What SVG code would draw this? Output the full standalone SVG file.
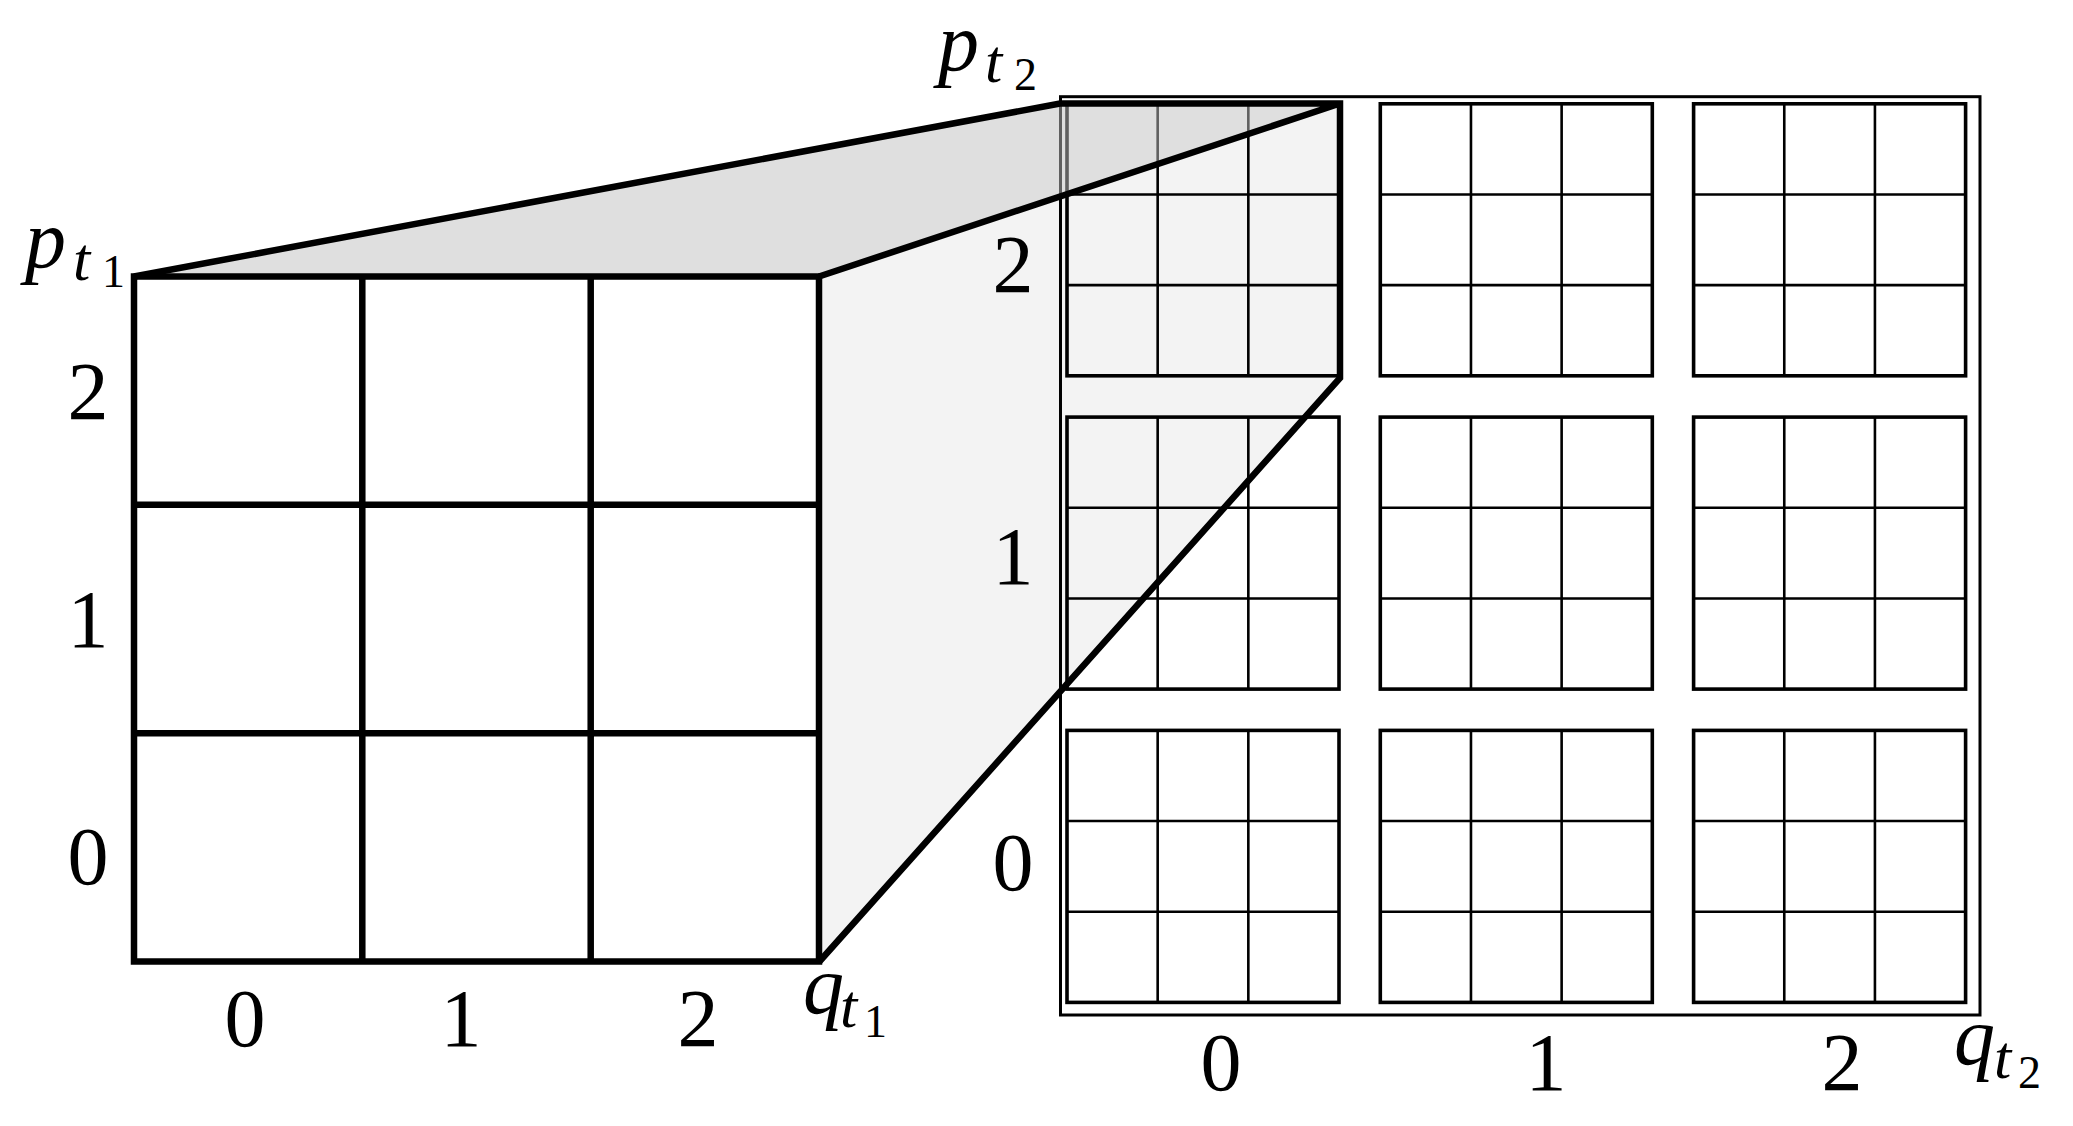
<svg xmlns="http://www.w3.org/2000/svg" xmlns:xlink="http://www.w3.org/1999/xlink" width="2073" height="1126" viewBox="0 0 2073 1126">
<style>
.lbl{font-family:"Liberation Serif","Times New Roman",serif;font-size:82px;fill:#000}
.mi{font-style:italic}
.sub{font-style:italic;font-size:62px}
.ss{font-size:46px}
.thick{stroke:#000;stroke-width:6.5;fill:none}
.thin{stroke:#000;stroke-width:2.6;fill:none}
.border{stroke:#000;stroke-width:3.6;fill:none}
.frame{stroke:#000;stroke-width:3;fill:none}
</style>
<defs>
<g id="sub">
<rect class="border" x="0" y="0" width="272" height="272"/>
<path class="thin" d="M90.67 0V272M181.33 0V272M0 90.67H272M0 181.33H272"/>
</g>
</defs>
<rect width="2073" height="1126" fill="#fff"/>
<g id="right-face">
<polygon points="819,276.5 1340,103.5 1340,378 819,962" fill="#f3f3f3"/>
</g>
<g id="fine-grid">
<rect class="frame" x="1060.5" y="96.7" width="919.5" height="918.3"/>
<use xlink:href="#sub" x="1067" y="103.8"/>
<use xlink:href="#sub" x="1380.3" y="103.8"/>
<use xlink:href="#sub" x="1693.6" y="103.8"/>
<use xlink:href="#sub" x="1067" y="417.1"/>
<use xlink:href="#sub" x="1380.3" y="417.1"/>
<use xlink:href="#sub" x="1693.6" y="417.1"/>
<use xlink:href="#sub" x="1067" y="730.4"/>
<use xlink:href="#sub" x="1380.3" y="730.4"/>
<use xlink:href="#sub" x="1693.6" y="730.4"/>
</g>
<g id="top-face">
<polygon points="134,276.5 1060,103.5 1340,103.5 819,276.5" fill="#bfbfbf" fill-opacity="0.5"/>
</g>
<g id="coarse-grid">
<rect class="thick" x="134" y="276.5" width="685" height="685"/>
<path class="thick" d="M362.3 276.5V961.5M590.7 276.5V961.5M134 504.8H819M134 733.2H819"/>
</g>
<g id="connectors">
<path class="thick" d="M134 276.5L1060 103.5L1340 103.5L1340 378L819 962M1340 103.5L819 276.5"/>
</g>
<g id="labels">
<text class="lbl"><tspan class="mi" x="25" y="267">p</tspan><tspan class="sub" x="73" y="280">t</tspan><tspan class="ss" x="102" y="287">1</tspan></text>
<text class="lbl"><tspan class="mi" x="938" y="70">p</tspan><tspan class="sub" x="985" y="82">t</tspan><tspan class="ss" x="1014" y="90">2</tspan></text>
<text class="lbl"><tspan class="mi" x="803" y="1013">q</tspan><tspan class="sub" x="840" y="1027">t</tspan><tspan class="ss" x="864" y="1037">1</tspan></text>
<text class="lbl"><tspan class="mi" x="1954" y="1064">q</tspan><tspan class="sub" x="1994" y="1078">t</tspan><tspan class="ss" x="2018" y="1088">2</tspan></text>
<g text-anchor="middle">
<text class="lbl" x="88" y="419">2</text>
<text class="lbl" x="88" y="647">1</text>
<text class="lbl" x="88" y="884">0</text>
<text class="lbl" x="245" y="1046">0</text>
<text class="lbl" x="461" y="1046">1</text>
<text class="lbl" x="698" y="1046">2</text>
<text class="lbl" x="1013" y="292">2</text>
<text class="lbl" x="1013" y="584">1</text>
<text class="lbl" x="1013" y="890">0</text>
<text class="lbl" x="1221" y="1090">0</text>
<text class="lbl" x="1546" y="1090">1</text>
<text class="lbl" x="1842" y="1090">2</text>
</g>
</g>
</svg>
